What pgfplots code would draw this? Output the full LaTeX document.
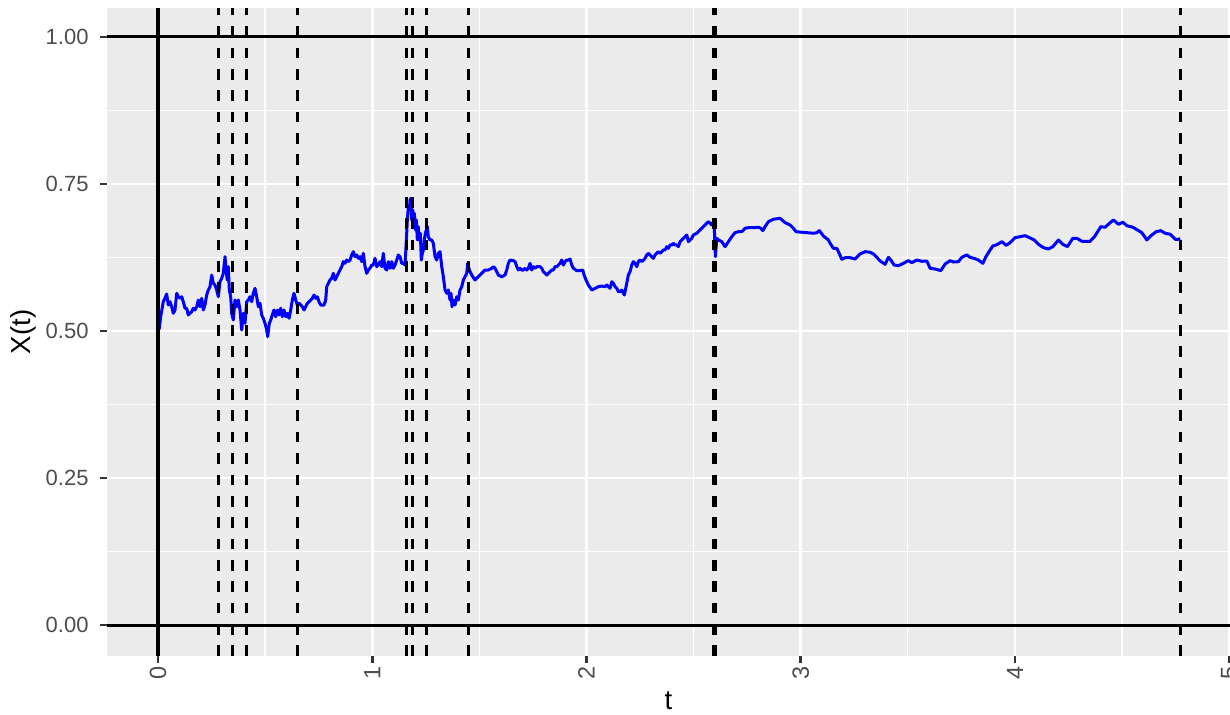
\documentclass[border=0pt]{standalone}
\usepackage{fontspec}
\setmainfont{Liberation Sans}
\usepackage{pgfplots}
\pgfplotsset{compat=1.18}
\definecolor{ggbg}{HTML}{EBEBEB}
\definecolor{gg20}{HTML}{333333}
\definecolor{gg30}{HTML}{4D4D4D}
\begin{document}
\begin{tikzpicture}
\begin{axis}[
  at={(0,0)}, anchor=south west,
  scale only axis, width=449.2pt, height=259.2pt,
  xmin=-0.238, xmax=5.004, ymin=-0.0527, ymax=1.0493,
  axis background/.style={fill=ggbg},
  axis line style={draw=none},
  xtick={0,1,2,3,4,5},
  ytick={0,0.25,0.5,0.75,1},
  yticklabels={0.00,0.25,0.50,0.75,1.00},
  minor xtick={0.5,1.5,2.5,3.5,4.5},
  minor ytick={0.125,0.375,0.625,0.875},
  grid=both,
  major grid style={white, line width=1.07pt},
  minor grid style={white, line width=0.53pt},
  tick align=outside,
  tick pos=left,
  major tick length=2.75pt,
  minor tick length=0pt,
  every tick/.style={gg20, line width=1.07pt},
  /pgf/number format/assume math mode=true,
  tick label style={font=\fontsize{8.8}{10}\selectfont, text=gg30, inner sep=0pt},
  yticklabel style={anchor=east},
  xticklabel style={rotate=90, anchor=east, font=\fontsize{9.4}{10}\selectfont},
  yticklabel shift=4.45pt,
  xticklabel shift=1.4pt,
  xlabel={t}, ylabel={X(t)},
  every axis x label/.style={at={(axis description cs:0.5,-0.0833)}, anchor=base, font=\fontsize{11}{13}\selectfont},
  every axis y label/.style={at={(axis description cs:-0.0748,0.5)}, rotate=90, anchor=center, font=\fontsize{11}{13}\selectfont},
  clip=true,
]
\addplot[color=blue, line width=1.2pt, line join=round, mark=none] coordinates {
(0,0.5) (0.0061,0.5046) (0.0126,0.5243) (0.0247,0.5498) (0.0327,0.5556) (0.0406,0.5629)
(0.0481,0.5442) (0.0560,0.5498) (0.0640,0.5413) (0.0714,0.5301) (0.0794,0.5357) (0.0873,0.5641)
(0.0948,0.5583) (0.1027,0.5556) (0.1106,0.5583) (0.1181,0.5498) (0.1261,0.5386) (0.1340,0.5386)
(0.1415,0.5272) (0.1494,0.5301) (0.1573,0.5328) (0.1648,0.5386) (0.1727,0.5357) (0.1807,0.5413)
(0.1881,0.5527) (0.1961,0.5413) (0.2040,0.5556) (0.2115,0.5357) (0.2194,0.5442) (0.2274,0.5612)
(0.2348,0.5697) (0.2428,0.5753) (0.2507,0.5952) (0.2582,0.5811) (0.2661,0.5782) (0.2740,0.5697)
(0.2815,0.5583) (0.2894,0.5838) (0.2974,0.5896) (0.3049,0.5981) (0.3128,0.6264) (0.3175,0.6037)
(0.3235,0.5867) (0.3282,0.6094) (0.3329,0.5697) (0.3394,0.5583) (0.3441,0.5301) (0.3515,0.5187)
(0.3595,0.5527) (0.3674,0.5413) (0.3749,0.5527) (0.3828,0.5357) (0.3908,0.5017) (0.3982,0.5301)
(0.4062,0.5131) (0.4141,0.5498) (0.4216,0.5527) (0.4295,0.5583) (0.4374,0.5498) (0.4449,0.5641)
(0.4528,0.5726) (0.4608,0.5583) (0.4683,0.5413) (0.4762,0.5471) (0.4841,0.5272) (0.4916,0.5216)
(0.4995,0.5131) (0.5075,0.5017) (0.5121,0.4903) (0.5196,0.5131) (0.5261,0.5187) (0.5336,0.5272)
(0.5415,0.5357) (0.5495,0.5243) (0.5570,0.5357) (0.5649,0.5272) (0.5728,0.5386) (0.5803,0.5243)
(0.5882,0.5357) (0.5962,0.5243) (0.6036,0.5301) (0.6116,0.5216) (0.6195,0.5357) (0.6270,0.5527)
(0.6349,0.5641) (0.6429,0.5527) (0.6503,0.5442) (0.6583,0.5471) (0.6662,0.5442) (0.6737,0.5413)
(0.6816,0.5357) (0.6895,0.5413) (0.6970,0.5471) (0.7049,0.5498) (0.7129,0.5527) (0.7204,0.5556)
(0.7283,0.5612) (0.7362,0.5556) (0.7437,0.5583) (0.7516,0.5498) (0.7596,0.5442) (0.7671,0.5442)
(0.7750,0.5442) (0.7829,0.5527) (0.7876,0.5753) (0.7951,0.5811) (0.8030,0.5867) (0.8109,0.5896)
(0.8184,0.5981) (0.8263,0.5867) (0.8343,0.5923) (0.8417,0.5981) (0.8497,0.6037) (0.8576,0.6094)
(0.8651,0.6179) (0.8730,0.6151) (0.8810,0.6207) (0.8884,0.6179) (0.8964,0.6207) (0.9043,0.6293)
(0.9118,0.6349) (0.9197,0.6264) (0.9276,0.6293) (0.9351,0.6236) (0.9430,0.6264) (0.9510,0.6179)
(0.9585,0.6321) (0.9664,0.6094) (0.9743,0.5981) (0.9818,0.6037) (0.9897,0.6066) (0.9977,0.6122)
(1.0051,0.6122) (1.0131,0.6236) (1.0210,0.6094) (1.0285,0.6122) (1.0364,0.6179) (1.0444,0.6094)
(1.0518,0.6321) (1.0598,0.6066) (1.0677,0.6037) (1.0752,0.6179) (1.0831,0.6066) (1.0910,0.6179)
(1.0985,0.6066) (1.1065,0.6122) (1.1144,0.6207) (1.1219,0.6293) (1.1298,0.6264) (1.1377,0.6151)
(1.1452,0.6151) (1.1531,0.6122) (1.1578,0.6434) (1.1639,0.6888) (1.1685,0.7114) (1.1732,0.7058)
(1.1765,0.7228) (1.1797,0.7257) (1.1844,0.6888) (1.1891,0.7058) (1.1938,0.6832) (1.1965,0.7002)
(1.2012,0.6718) (1.2059,0.6888) (1.2106,0.6548) (1.2152,0.6774) (1.2199,0.6548) (1.2246,0.6662)
(1.2292,0.6207) (1.2339,0.6321) (1.2386,0.6378) (1.2432,0.6548) (1.2479,0.6662) (1.2526,0.6718)
(1.2572,0.6774) (1.2619,0.6604) (1.2698,0.6548) (1.2778,0.6548) (1.2852,0.6491) (1.2932,0.6264)
(1.3011,0.6207) (1.3086,0.6321) (1.3165,0.6349) (1.3245,0.6094) (1.3319,0.5923) (1.3399,0.5697)
(1.3478,0.5641) (1.3553,0.5697) (1.3632,0.5527) (1.3679,0.5641) (1.3725,0.5413) (1.3786,0.5527)
(1.3866,0.5442) (1.3945,0.5583) (1.4020,0.5527) (1.4099,0.5697) (1.4178,0.5753) (1.4253,0.5867)
(1.4332,0.5923) (1.4412,0.5981) (1.4458,0.6151) (1.4533,0.6037) (1.4645,0.5952) (1.4799,0.5867)
(1.4953,0.5923) (1.5112,0.5981) (1.5266,0.6037) (1.5420,0.6037) (1.5579,0.6066) (1.5654,0.6094)
(1.5733,0.6066) (1.5812,0.6009) (1.5887,0.5952) (1.6046,0.5923) (1.6200,0.5952) (1.6279,0.6037)
(1.6354,0.6151) (1.6433,0.6207) (1.6587,0.6196) (1.6667,0.6179) (1.6746,0.6094) (1.6821,0.6037)
(1.6900,0.6066) (1.6979,0.6037) (1.7054,0.6037) (1.7134,0.6066) (1.7213,0.6037) (1.7288,0.6066)
(1.7367,0.6151) (1.7446,0.6037) (1.7521,0.6094) (1.7600,0.6066) (1.7680,0.6094) (1.7834,0.6094)
(1.7913,0.6066) (1.7988,0.6009) (1.8067,0.5981) (1.8147,0.5952) (1.8221,0.5981) (1.8301,0.6009)
(1.8380,0.6037) (1.8455,0.6037) (1.8534,0.6094) (1.8613,0.6094) (1.8688,0.6122) (1.8768,0.6151)
(1.8847,0.6207) (1.8922,0.6122) (1.9001,0.6179) (1.9080,0.6207) (1.9155,0.6207) (1.9234,0.6224)
(1.9314,0.6122) (1.9389,0.6066) (1.9547,0.6026) (1.9701,0.6026) (1.9827,0.6037) (1.9888,0.5952)
(1.9981,0.5867) (2.0089,0.5782) (2.0247,0.5697) (2.0402,0.5726) (2.0556,0.5753) (2.0714,0.5765)
(2.0868,0.5753) (2.0948,0.5782) (2.1022,0.5753) (2.1102,0.5726) (2.1181,0.5838) (2.1256,0.5811)
(2.1335,0.5753) (2.1415,0.5726) (2.1489,0.5668) (2.1569,0.5668) (2.1648,0.5697) (2.1723,0.5641)
(2.1769,0.5612) (2.1849,0.5753) (2.1956,0.5952) (2.2035,0.6009) (2.2115,0.6122) (2.2190,0.6179)
(2.2269,0.6151) (2.2348,0.6094) (2.2423,0.6179) (2.2502,0.6207) (2.2582,0.6179) (2.2656,0.6207)
(2.2736,0.6236) (2.2815,0.6293) (2.2890,0.6321) (2.2969,0.6293) (2.3049,0.6264) (2.3123,0.6236)
(2.3203,0.6293) (2.3282,0.6321) (2.3357,0.6349) (2.3436,0.6321) (2.3515,0.6349) (2.3590,0.6378)
(2.3669,0.6378) (2.3749,0.6434) (2.3824,0.6406) (2.3903,0.6463) (2.3982,0.6463) (2.4057,0.6491)
(2.4137,0.6463) (2.4216,0.6463) (2.4291,0.6434) (2.4370,0.6519) (2.4449,0.6548) (2.4524,0.6577)
(2.4603,0.6604) (2.4683,0.6633) (2.4757,0.6519) (2.4837,0.6548) (2.4916,0.6577) (2.4991,0.6633)
(2.5149,0.6662) (2.5303,0.6718) (2.5457,0.6774) (2.5616,0.6832) (2.5691,0.6859) (2.5770,0.6832)
(2.5849,0.6803) (2.5924,0.6859) (2.5971,0.6718) (2.6018,0.6264) (2.6083,0.6577) (2.6158,0.6548)
(2.6317,0.6519) (2.6471,0.6434) (2.6625,0.6519) (2.6783,0.6604) (2.6937,0.6672) (2.7091,0.6689)
(2.7250,0.6689) (2.7404,0.6747) (2.7558,0.6757) (2.7792,0.6757) (2.8025,0.6764) (2.8137,0.6747)
(2.8231,0.6706) (2.8338,0.6774) (2.8492,0.6859) (2.8726,0.6900) (2.9038,0.6917) (2.9272,0.6842)
(2.9505,0.6803) (2.9659,0.6747) (2.9785,0.6689) (3.0051,0.6679) (3.0285,0.6672) (3.0593,0.6662)
(3.0752,0.6672) (3.0873,0.6706) (3.1060,0.6616) (3.1293,0.6548) (3.1373,0.6491) (3.1527,0.6406)
(3.1685,0.6406) (3.1760,0.6349) (3.1919,0.6219) (3.2073,0.6247) (3.2306,0.6247) (3.2540,0.6224)
(3.2773,0.6310) (3.3007,0.6349) (3.3240,0.6338) (3.3394,0.6310) (3.3553,0.6253) (3.3707,0.6190)
(3.3940,0.6134) (3.4094,0.6253) (3.4206,0.6207) (3.4360,0.6122) (3.4561,0.6111) (3.4795,0.6151)
(3.5028,0.6196) (3.5187,0.6162) (3.5420,0.6207) (3.5654,0.6185) (3.5887,0.6190) (3.6041,0.6066)
(3.6275,0.6054) (3.6541,0.6026) (3.6741,0.6139) (3.6975,0.6196) (3.7129,0.6173) (3.7362,0.6179)
(3.7521,0.6253) (3.7754,0.6293) (3.7908,0.6253) (3.8142,0.6230) (3.8296,0.6207) (3.8501,0.6151)
(3.8640,0.6259) (3.8810,0.6361) (3.8969,0.6446) (3.9155,0.6468) (3.9389,0.6519) (3.9589,0.6457)
(3.9776,0.6502) (4.0009,0.6587) (4.0243,0.6604) (4.0476,0.6621) (4.0710,0.6582) (4.0896,0.6548)
(4.1097,0.6474) (4.1331,0.6417) (4.1564,0.6395) (4.1769,0.6434) (4.2031,0.6548) (4.2236,0.6474)
(4.2451,0.6434) (4.2703,0.6577) (4.2890,0.6577) (4.3123,0.6526) (4.3511,0.6526) (4.3712,0.6604)
(4.4010,0.6774) (4.4211,0.6764) (4.4412,0.6832) (4.4599,0.6888) (4.4832,0.6815) (4.5037,0.6849)
(4.5224,0.6791) (4.5504,0.6764) (4.5719,0.6718) (4.5924,0.6672) (4.6158,0.6548) (4.6391,0.6633)
(4.6592,0.6689) (4.6812,0.6706) (4.7012,0.6662) (4.7246,0.6645) (4.7479,0.6560) (4.7633,0.6560)
(4.7713,0.6570)
};
% horizontal reference lines
\addplot[black, line width=1.2pt, mark=none] coordinates {(-0.238,0) (5.004,0)};
\addplot[black, line width=1.2pt, mark=none] coordinates {(-0.238,1) (5.004,1)};
% vertical lines
\addplot[black, line width=1.3pt, mark=none] coordinates {(0,-0.0527) (0,1.0493)};
\pgfplotsinvokeforeach{0.2824,0.3487,0.4136,0.6503,1.1611,1.1881,1.2512,1.4505,2.5924,2.6022,4.7713}{
  \addplot[black, line width=1.2pt, line cap=butt, dash pattern=on 4.27pt off 4.27pt, mark=none] coordinates {(#1,-0.0527) (#1,1.0493)};
}
\end{axis}
\pgfresetboundingbox
\path[use as bounding box] (-42.8pt,-23.6pt) rectangle (449.2pt,262.4pt);
\end{tikzpicture}
\end{document}
